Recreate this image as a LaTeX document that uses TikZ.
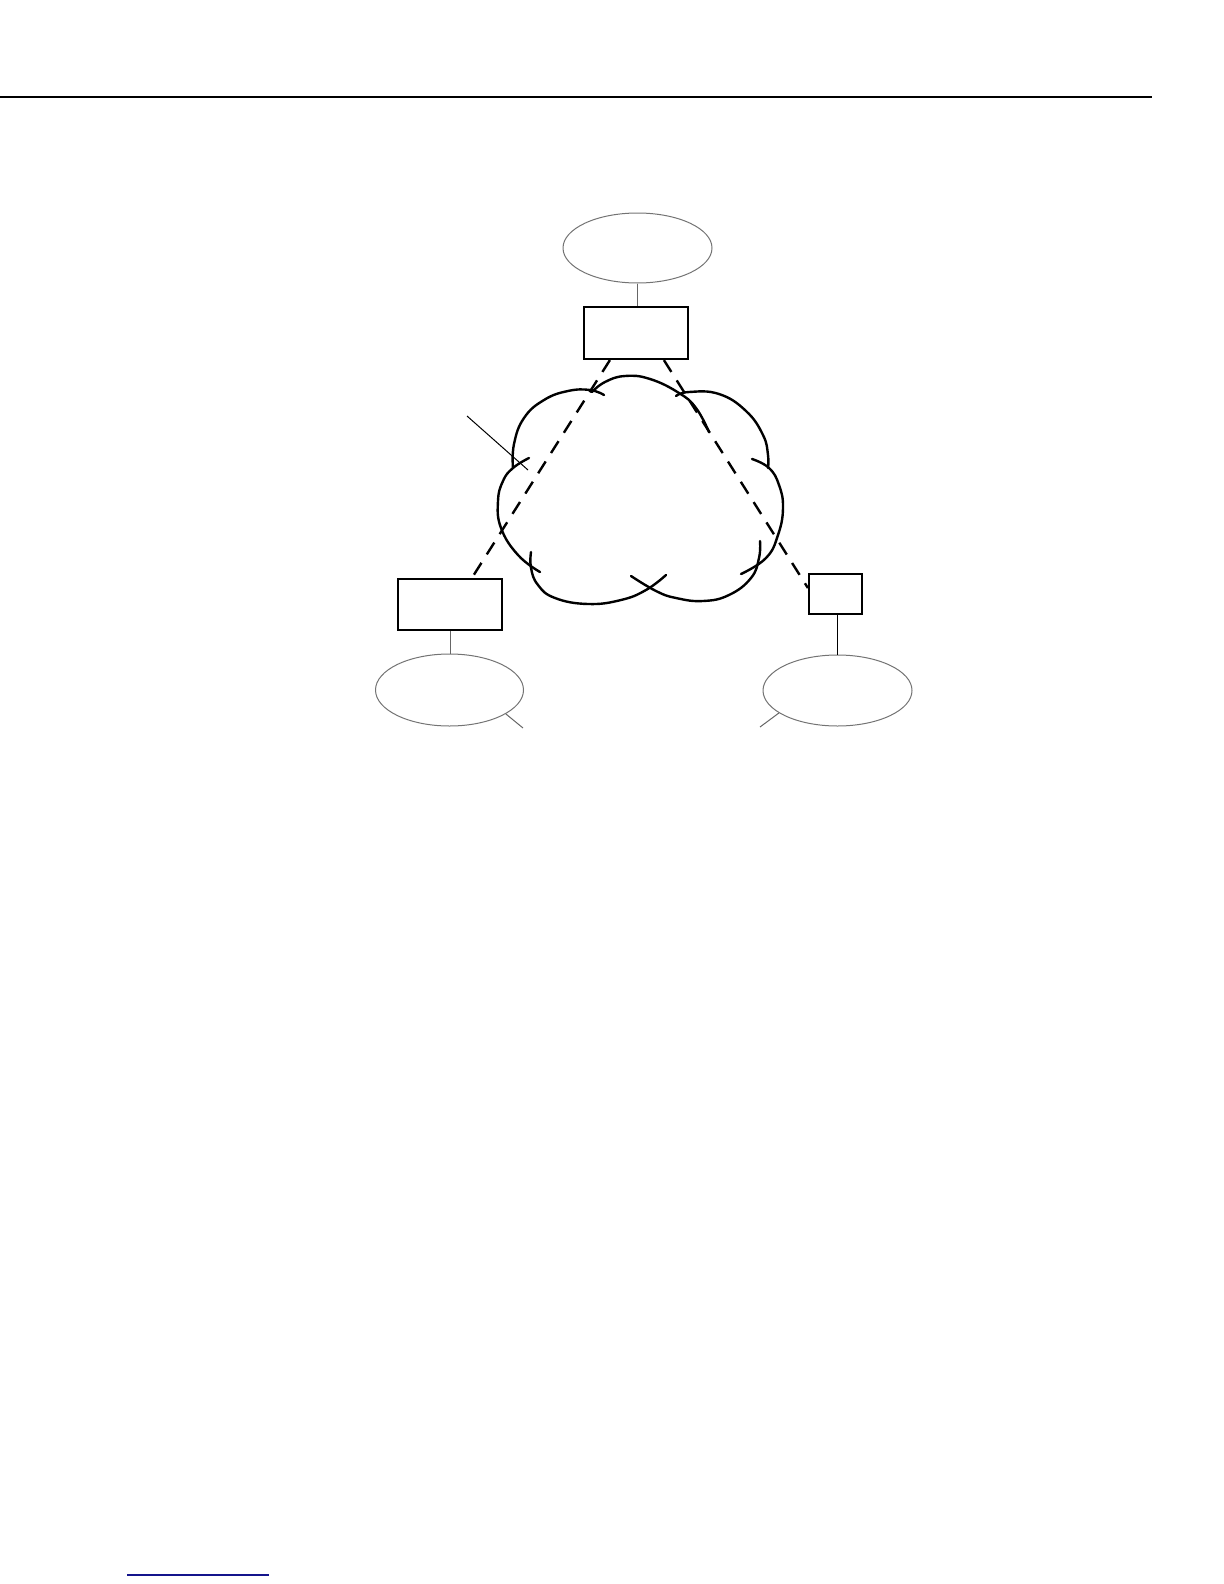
\documentclass[tikz,border=0pt]{standalone}
\usetikzlibrary{calc,shapes.geometric}
\definecolor{navyline}{RGB}{20,20,140}
\tikzset{
  box/.style={draw, line width=1.1pt, minimum width=52pt, minimum height=26pt, inner sep=0pt},
  lan/.style={draw=black!55, line width=0.5pt, ellipse, minimum width=74.5pt, minimum height=35pt, inner sep=0pt},
  link/.style={draw=black!60, line width=0.5pt},
  vpn/.style={line width=1.2pt, dash pattern=on 7pt off 5pt},
  cloudline/.style={line width=1.2pt, line cap=round},
}
\begin{document}
\begin{tikzpicture}[x=0.5pt,y=-0.5pt]
\useasboundingbox (0,0) rectangle (1224,1584);
% header rule and footer rule
\draw[line width=0.8pt] (0,97) -- (1152,97);
\draw[navyline, line width=0.7pt] (127,1575) -- (269,1575);

% nodes
\node[lan] (te) at (637.5,248) {};
\node[box] (tr) at (636,333) {};
\node[box, minimum height=25.5pt] (bl) at (450,604.5) {};
\node[lan, minimum width=74pt, minimum height=36pt] (ble) at (449.5,690) {};
\node[box, minimum width=26.5pt, minimum height=20pt] (rr) at (835.5,594) {};
\node[lan, minimum height=35.5pt] (rre) at (837.5,690.5) {};

% connectors
\draw[link] (te.south) -- (te.south |- tr.north);
\draw[link] (bl.south) -- (bl.south |- ble.north);
\draw[line width=0.5pt] (rre.north |- rr.south) -- (rre.north);

% cloud
\draw[cloudline] plot[smooth, tension=0.75] coordinates {(513,468) (514,444) (524,418) (544,400) (568,391) (590,390) (604,395)};
\draw[cloudline] plot[smooth, tension=0.75] coordinates {(592,392) (605,382) (625,376) (650,379) (679,393) (696,408) (709,432)};
\draw[cloudline] plot[smooth, tension=0.75] coordinates {(676,396) (689,392) (719,394) (746,411) (763,435) (768,455) (768,468)};
\draw[cloudline] plot[smooth, tension=0.75] coordinates {(752,459) (769,468) (779,485) (783,508) (778,535) (766,558) (741,574)};
\draw[cloudline] plot[smooth, tension=0.75] coordinates {(760,541) (759,558) (751,578) (729,595) (703,601) (676,598) (656,591) (631,576)};
\draw[cloudline] plot[smooth, tension=0.75] coordinates {(666,575) (646,590) (621,600) (588,604) (555,598) (538,585) (531,568) (531,552)};
\draw[cloudline] plot[smooth, tension=0.75] coordinates {(540,572) (518,555) (501,528) (498,501) (503,481) (513,468) (529,458)};

% dashed tunnels
\draw[vpn] ([xshift=13.5pt]tr.south west) -- ([xshift=37.5pt]bl.north west);
\draw[vpn] ([xshift=40.5pt]tr.south west) -- ([yshift=3pt]rr.west);

% callout lines
\coordinate (c1) at (467,416);
\coordinate (c2) at (528,470);
\draw[line width=0.5pt] (c1) -- (c2);
\coordinate (t1) at (523,728);
\draw[link] (ble.-23) -- (t1);
\coordinate (t2) at (760,727);
\draw[link] (rre.201) -- (t2);
\end{tikzpicture}
\end{document}
